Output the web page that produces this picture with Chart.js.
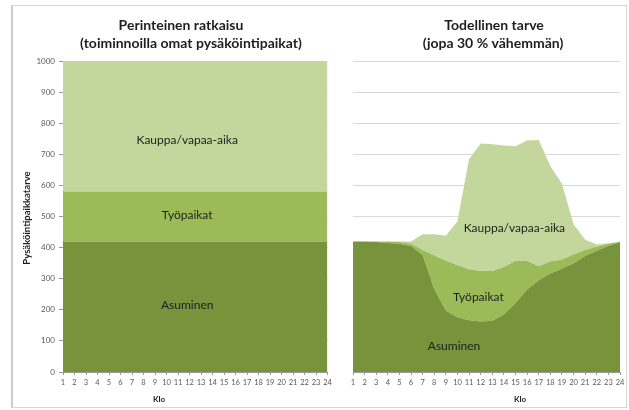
<!DOCTYPE html>
<html><head><meta charset="utf-8">
<script src="https://cdn.jsdelivr.net/npm/chart.js@4"></script>
<style>
html,body{margin:0;padding:0;background:#fff;overflow:hidden;}
#frame{position:absolute;left:11px;top:5px;width:613px;height:401px;border:1px solid #d6d6d6;border-left:2px solid #cccccc;}
#wl{position:absolute;left:0;top:0;width:336px;height:410px;}
#wr{position:absolute;left:336px;top:0;width:293px;height:410px;}
canvas{display:block}
</style></head><body>
<div id="frame"></div>
<div id="wl"><canvas id="cl" width="336" height="410"></canvas></div>
<div id="wr"><canvas id="cr" width="293" height="410"></canvas></div>
<script>
// ---- Data ----
const hours = ['1','2','3','4','5','6','7','8','9','10','11','12','13','14','15','16','17','18','19','20','21','22','23','24'];

// Left: traditional solution (each function has its own parking places)
const tradHousing = [420,420,420,420,420,420,420,420,420,420,420,420,420,420,420,420,420,420,420,420,420,420,420,420];
const tradWork    = [160,160,160,160,160,160,160,160,160,160,160,160,160,160,160,160,160,160,160,160,160,160,160,160];
const tradShop    = [420,420,420,420,420,420,420,420,420,420,420,420,420,420,420,420,420,420,420,420,420,420,420,420];

// Right: actual need
const realHousing = [420,420,418,415,412,405,376,266,198,176,166,162,165,185,222,265,295,317,332,350,373,390,405,418];
const realWork    = [0,0,2,5,6,7,16,109,160,167,164,163,160,153,136,92,45,38,30,28,19,13,7,0];
const realShop    = [0,0,0,0,2,8,51,68,80,142,355,410,407,390,368,387,406,307,243,97,33,7,2,2];

const seriesNames = ['Asuminen','Työpaikat','Kauppa/vapaa-aika'];
const seriesColors = ['#77933c','#9bbb59','#c3d69b'];

const yMin = 0, yMax = 1000, yStep = 100;

// ---- helpers ----
const FONT = 'Lato, "Open Sans", sans-serif';
function textPlugin(items) {
  return {
    id: 'texts',
    afterDraw(chart) {
      const ctx = chart.ctx;
      const xs = chart.scales.x, ys = chart.scales.y;
      items.forEach(it => {
        ctx.save();
        ctx.font = it.font;
        ctx.fillStyle = it.color || '#1e1e1e';
        ctx.textAlign = 'center';
        ctx.textBaseline = 'middle';
        let px, py;
        if (it.dataPos) { px = xs.getPixelForValue(it.dataPos[0]); py = ys.getPixelForValue(it.dataPos[1]); }
        else { px = it.px; py = it.py; }
        ctx.translate(px, py);
        if (it.rot) ctx.rotate(it.rot);
        ctx.fillText(it.text, 0, 0);
        ctx.restore();
      });
    }
  };
}

function datasets(h, w, s) {
  return [
    {label: seriesNames[0], data: h, fill: 'origin', backgroundColor: seriesColors[0]},
    {label: seriesNames[1], data: w, fill: '-1', backgroundColor: seriesColors[1]},
    {label: seriesNames[2], data: s, fill: '-1', backgroundColor: seriesColors[2]}
  ].map(d => Object.assign(d, {borderWidth: 0, borderColor: 'rgba(0,0,0,0)', pointRadius: 0, tension: 0}));
}

function makeChart(id, h, w, s, cfg) {
  return new Chart(document.getElementById(id), {
    type: 'line',
    data: {labels: hours, datasets: datasets(h, w, s)},
    plugins: [textPlugin(cfg.texts)],
    options: {
      responsive: false,
      animation: false,
      events: [],
      layout: {padding: {left: 0, right: cfg.padRight, top: 61, bottom: 0}},
      plugins: {legend: {display: false}, tooltip: {enabled: false}, title: {display: false}},
      scales: {
        x: {
          type: 'category', offset: false,
          grid: {display: true, drawOnChartArea: false, drawTicks: true, tickLength: 3, color: '#9a9a9a', offset: false},
          border: {display: true, color: '#9a9a9a'},
          ticks: {color: '#595959', font: {family: FONT, size: 7.5}, padding: 3, maxRotation: 0, autoSkip: false},
          afterFit: sc => { sc.height = 38; }
        },
        y: {
          stacked: true, min: yMin, max: yMax,
          grid: {display: true, color: '#d9d9d9', drawTicks: cfg.yTicks, tickLength: 4, tickColor: '#9a9a9a'},
          border: {display: cfg.yTicks, color: '#9a9a9a'},
          ticks: {display: cfg.yTicks, stepSize: yStep, color: '#595959', font: {family: FONT, size: 8}, padding: 4,
                  callback: v => String(v)},
          afterFit: sc => { sc.width = cfg.yWidth; }
        }
      }
    }
  });
}

const TITLE_FONT = 'bold 14px ' + FONT;
const LABEL_FONT = '12px ' + FONT;

makeChart('cl', tradHousing, tradWork, tradShop, {
  padRight: 8.5, yWidth: 63, yTicks: true,
  texts: [
    {text: 'Perinteinen ratkaisu', px: 181, py: 25, font: TITLE_FONT},
    {text: '(toiminnoilla omat pysäköintipaikat)', px: 191, py: 43, font: TITLE_FONT},
    {text: 'Pysäköintipaikkatarve', px: 27, py: 218, font: 'bold 9.5px ' + FONT, rot: -Math.PI / 2},
    {text: 'Klo', px: 159, py: 399, font: 'bold 8px ' + FONT},
    {text: seriesNames[2], dataPos: [10.8, 746], font: LABEL_FONT},
    {text: seriesNames[1], dataPos: [10.8, 505], font: LABEL_FONT},
    {text: seriesNames[0], dataPos: [10.8, 215], font: LABEL_FONT}
  ]
});

makeChart('cr', realHousing, realWork, realShop, {
  padRight: 9, yWidth: 17, yTicks: false,
  texts: [
    {text: 'Todellinen tarve', px: 494 - 336, py: 25, font: TITLE_FONT},
    {text: '(jopa 30 % vähemmän)', px: 493 - 336, py: 43, font: TITLE_FONT},
    {text: 'Klo', px: 520 - 336, py: 399, font: 'bold 8px ' + FONT},
    {text: seriesNames[2], dataPos: [13.9, 463], font: LABEL_FONT},
    {text: seriesNames[1], dataPos: [10.8, 242], font: LABEL_FONT},
    {text: seriesNames[0], dataPos: [8.7, 84], font: LABEL_FONT}
  ]
});
</script>
</body></html>
